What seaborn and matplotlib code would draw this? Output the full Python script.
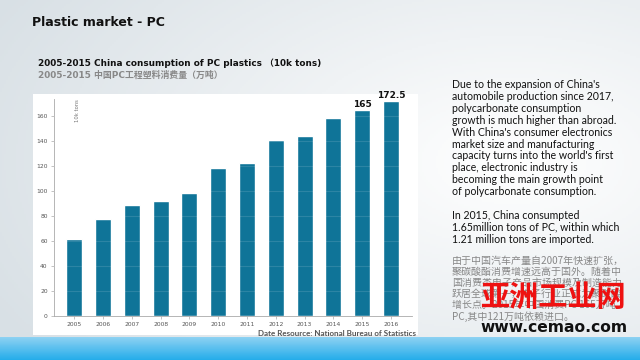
import numpy as np
import pandas as pd
import matplotlib
matplotlib.use("Agg")
import matplotlib.pyplot as plt
import seaborn as sns
from matplotlib.patches import Rectangle

years = ["2005", "2006", "2007", "2008", "2009", "2010", "2011", "2012", "2013", "2014", "2015", "2016"]
consumption = [62, 78, 89, 92, 99, 119, 123, 141, 144, 159, 165, 172.5]
labeled = {"2015": "165", "2016": "172.5"}
yticks = [0, 20, 40, 60, 80, 100, 120, 140, 160]

title = "Plastic market - PC"
sub_en = "2005-2015 China consumption of PC plastics （10k tons)"
sub_cn = "2005-2015 中国PC工程塑料消费量（万吨）"
source = "Date Resource: National Bureau of Statistics"
body_en = ("Due to the expansion of China's\n"
           "automobile production since 2017,\n"
           "polycarbonate consumption\n"
           "growth is much higher than abroad.\n"
           "With China's consumer electronics\n"
           "market size and manufacturing\n"
           "capacity turns into the world's first\n"
           "place, electronic industry is\n"
           "becoming the main growth point\n"
           "of polycarbonate consumption.\n"
           "\n"
           "In 2015, China consumpted\n"
           "1.65million tons of PC, within which\n"
           "1.21 million tons are imported.")
body_cn = ("由于中国汽车产量自2007年快速扩张，\n"
           "聚碳酸酯消费增速远高于国外。随着中\n"
           "国消费类电子产品市场规模及制造能力\n"
           "跃居全球第一，电子行业正成为聚碳酸\n"
           "增长点。2015年中国消费PC 165万吨，\n"
           "PC,其中121万吨依赖进口。")

sns.set_theme(style="white")
plt.rcParams['font.family'] = ['DejaVu Sans', 'Noto Sans CJK SC']

W, H = 640, 360
fig = plt.figure(figsize=(6.4, 3.6), dpi=100)

# background gradient
bg = fig.add_axes([0, 0, 1, 1], zorder=-10)
xx = np.linspace(0, 1, 320)
yy = np.linspace(0, 1, 180)
X, Y = np.meshgrid(xx, yy)
d = np.sqrt(((X - 0.8) / 0.9) ** 2 + ((Y - 0.45) / 0.9) ** 2)
t = np.clip(d, 0, 1)
c0 = np.array([1.0, 1.0, 1.0])
c1 = np.array([0.85, 0.88, 0.90])
img = c0[None, None, :] * (1 - t[..., None]) + c1[None, None, :] * t[..., None]
bg.imshow(img, extent=[0, W, H, 0], aspect='auto')
# bottom blue strip
strip_y = np.linspace(0, 1, 20)
strip = np.zeros((20, 2, 3))
top_c = np.array([0.55, 0.82, 0.95])
bot_c = np.array([0.15, 0.68, 0.92])
for i, s in enumerate(strip_y):
    strip[i, :, :] = top_c * (1 - s) + bot_c * s
bg.imshow(strip, extent=[0, W, H, 337], aspect='auto')
# white chart panel
bg.add_patch(Rectangle((33, 94), 385, 241, facecolor='white', edgecolor='none'))
bg.set_xlim(0, W)
bg.set_ylim(H, 0)
bg.axis('off')

# texts
bg.text(32, 22, title, fontsize=9.0, fontweight='bold', color='#111111', va='center', ha='left')
bg.text(38, 63, sub_en, fontsize=6.4, fontweight='bold', color='#111111', va='center', ha='left')
bg.text(38, 75, sub_cn, fontsize=6.4, fontweight='bold', color='#888888', va='center', ha='left',
        family=['DejaVu Sans', 'Noto Sans CJK SC'])
bg.text(258, 333, source, fontsize=5.8, fontweight='bold', color='#555555', va='center', ha='left',
        family=['Lato', 'DejaVu Sans'])
bg.text(452, 79, body_en, fontsize=7.6, color='#111111', va='top', ha='left', linespacing=1.1,
        family=['Lato', 'DejaVu Sans'])
bg.text(452, 256, body_cn, fontsize=7.2, color='#888888', va='top', ha='left', linespacing=1.12,
        family=['Noto Sans CJK SC', 'DejaVu Sans'])
# watermark
bg.text(553, 297, "亚洲工业网", fontsize=21, fontweight='bold', color='#ee1111', va='center', ha='center',
        family=['Noto Sans CJK SC', 'DejaVu Sans'])
bg.text(554, 327, "www.cemao.com", fontsize=11.2, fontweight='bold', color='#111111', va='center', ha='center')

# bar chart
ax = fig.add_axes([54 / W, 1 - 316 / H, (412 - 54) / W, (316 - 99) / H])
df = pd.DataFrame({"year": years, "value": consumption})
sns.barplot(data=df, x="year", y="value", color="#0f7498", saturation=1, width=0.56, ax=ax, zorder=2)
ax.set_facecolor('none')
ax.set_xlim(-0.7, 11.73)
ax.set_ylim(0, 174)
ax.set_yticks(yticks)
ax.set_yticklabels([str(v) for v in yticks])
ax.set_xlabel("")
ax.set_ylabel("")
for v in yticks[1:]:
    ax.axhline(v, color='white', alpha=0.12, lw=0.8, zorder=3)
for sp in ['top', 'right']:
    ax.spines[sp].set_visible(False)
for sp in ['left', 'bottom']:
    ax.spines[sp].set_color('#aaaaaa')
    ax.spines[sp].set_linewidth(0.6)
ax.tick_params(axis='both', labelsize=4.3, colors='#aaaaaa', labelcolor='#555555', length=2.5, width=0.5, pad=2)
ax.tick_params(axis='x', direction='out', bottom=True)
ax.tick_params(axis='y', direction='out', left=True)
for i, y in enumerate(years):
    if y in labeled:
        ax.text(i, consumption[i] + 1.0, labeled[y], fontsize=6.5, fontweight='bold', color='#111111',
                ha='center', va='bottom')
ax.text(0.06, 1.0, "10k tons", transform=ax.transAxes, fontsize=3.8, color='#777777', rotation=90,
        ha='left', va='top')

fig.savefig("out.png", dpi=100)
